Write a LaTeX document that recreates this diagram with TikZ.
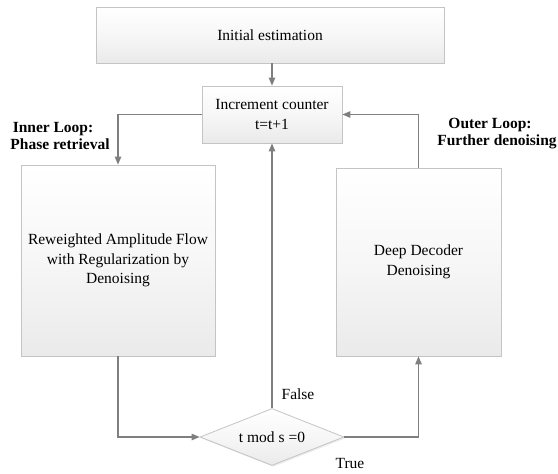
\documentclass[tikz,border=0pt]{standalone}
\usepackage{fontspec}
\setmainfont{Liberation Serif}
\usetikzlibrary{positioning, shapes.geometric, arrows.meta, shadows}
\definecolor{flowline}{HTML}{7F7F7F}
\definecolor{flowedge}{HTML}{C4C4C4}
\definecolor{flowfill}{HTML}{EAEAEA}

\begin{document}
\begin{tikzpicture}[x=1pt, y=-1pt, font=\fontsize{15.5}{19.5}\selectfont,
    block/.style={draw=flowedge, line width=0.8pt, top color=white, bottom color=flowfill, middle color=flowfill!40, align=center, inner sep=2pt,
      drop shadow={shadow xshift=1.2pt, shadow yshift=-1.4pt, fill=black!12, opacity=0.6}},
    decision/.style={block, diamond, aspect=2.5, inner sep=1pt},
    flow/.style={flowline, line width=1.2pt, -{Triangle[length=8pt, width=6.5pt]}},
    looplabel/.style={font=\fontsize{15.5}{17}\selectfont\bfseries, align=center}]
  \useasboundingbox (0,0) rectangle (558,474);
  \node[block, minimum width=348pt, minimum height=56pt] (init) at (270,35) {Initial estimation};
  \node[block, minimum width=140pt, minimum height=57pt] (counter) at (272,114.5) {Increment counter\\t=t+1};
  \node[block, minimum width=194pt, minimum height=191pt] (raf) at (118,260.5) {Reweighted Amplitude Flow\\with Regularization by\\Denoising};
  \node[block, minimum width=165pt, minimum height=188pt] (dd) at (418.5,262) {Deep Decoder\\Denoising};
  \node[decision, minimum width=144pt, minimum height=57pt] (test) at (272,437) {t mod s =0};
  \draw[flow] (counter.north |- init.south) -- (counter.north);
  \draw[flow] (counter.west) -| (raf.north);
  \draw[flow] (raf.south) |- (test.west);
  \draw[flow] (test.east) -| (dd.south);
  \draw[flow] (dd.north) |- (counter.east);
  \draw[flow] (test.north) -- (counter.south);
  \node[looplabel] (innerlbl) at (60,136) {Inner Loop:\hspace*{0.9em}\\Phase retrieval};
  \node[looplabel] (outerlbl) at (497,134) {Outer Loop:\hspace*{0.9em}\\Further denoising};
  \node (falselbl) at (298,394) {False};
  \node (truelbl) at (350,463) {True};
\end{tikzpicture}
\end{document}
